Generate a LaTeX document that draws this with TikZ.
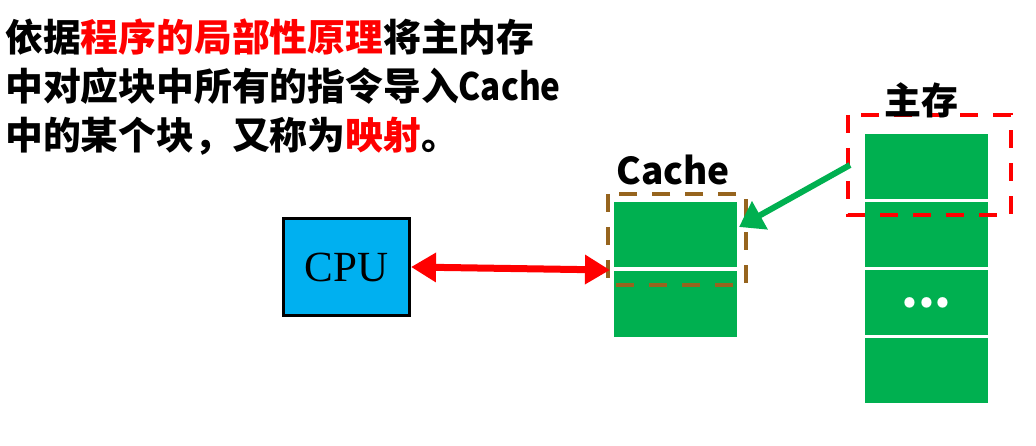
\documentclass[tikz,border=0pt]{standalone}
\usepackage{fontspec}
\setmainfont{Liberation Serif}
\newfontfamily\cjk{Noto Sans CJK SC}
\usetikzlibrary{arrows.meta}
\definecolor{blockgreen}{RGB}{0,176,80}
\definecolor{cpublue}{RGB}{0,176,240}
\definecolor{selbrown}{RGB}{150,100,30}

\begin{document}
\begin{tikzpicture}[x=1pt,y=-1pt,
  txt/.style={anchor=base west,inner sep=0pt,font=\cjk\bfseries\fontsize{37.8}{49}\selectfont},
  title/.style={inner sep=0pt,font=\cjk\bfseries\fontsize{37}{40}\selectfont},
  block/.style={fill=blockgreen,minimum width=123pt,minimum height=65pt,inner sep=0pt},
  dashbox/.style={line width=4.5pt,dash pattern=on 18pt off 15pt},
  link/.style={line width=7pt,red,{Triangle[length=25pt,width=28pt]}-{Triangle[length=25pt,width=28pt]}},
  maparrow/.style={line width=6pt,blockgreen,-{Triangle[length=24pt,width=31pt]}}]
  \useasboundingbox (0,0) rectangle (1036,446);

  \node[txt] (line1) at (5,52) {依据\textcolor{red}{程序的局部性原理}将主内存};
  \node[txt] (line2) at (5,101) {中对应块中所有的指令导入\scalebox{0.88}[1]{Cache}};
  \node[txt] (line3) at (5,150) {中的某个块，又称为\textcolor{red}{映射}。};

  \node[draw,line width=3pt,fill=cpublue,minimum width=126pt,minimum height=97pt,
        font=\fontsize{43}{45}\selectfont] (cpu) at (346.5,267) {CPU};

  \node[block] (cacheA) at (675.5,235) {};
  \node[block] (cacheB) at (675.5,304) {};
  \node[block] (memA) at (926.5,166.5) {};
  \node[block] (memB) at (926.5,234.5) {};
  \node[block] (memC) at (926.5,302.5) {};
  \node[block] (memD) at (926.5,370.5) {};
  \node[inner sep=0pt,white,font=\cjk\bfseries\fontsize{48}{50}\selectfont] (dots) at (memC) {...};

  \draw[dashbox,selbrown] (608,194) rectangle (746,285);
  \node[title] (cachelabel) at (673,170) {Cache};
  \draw[dashbox,red] (848,115) rectangle (1011,215);
  \node[title] (memlabel) at (921,100) {主存};

  \coordinate (cachein) at (739,227);
  \coordinate (memout) at (850,165);
  \draw[link] (cpu.east) -- (610,270);
  \draw[maparrow] (memout) -- (cachein);
\end{tikzpicture}
\end{document}
